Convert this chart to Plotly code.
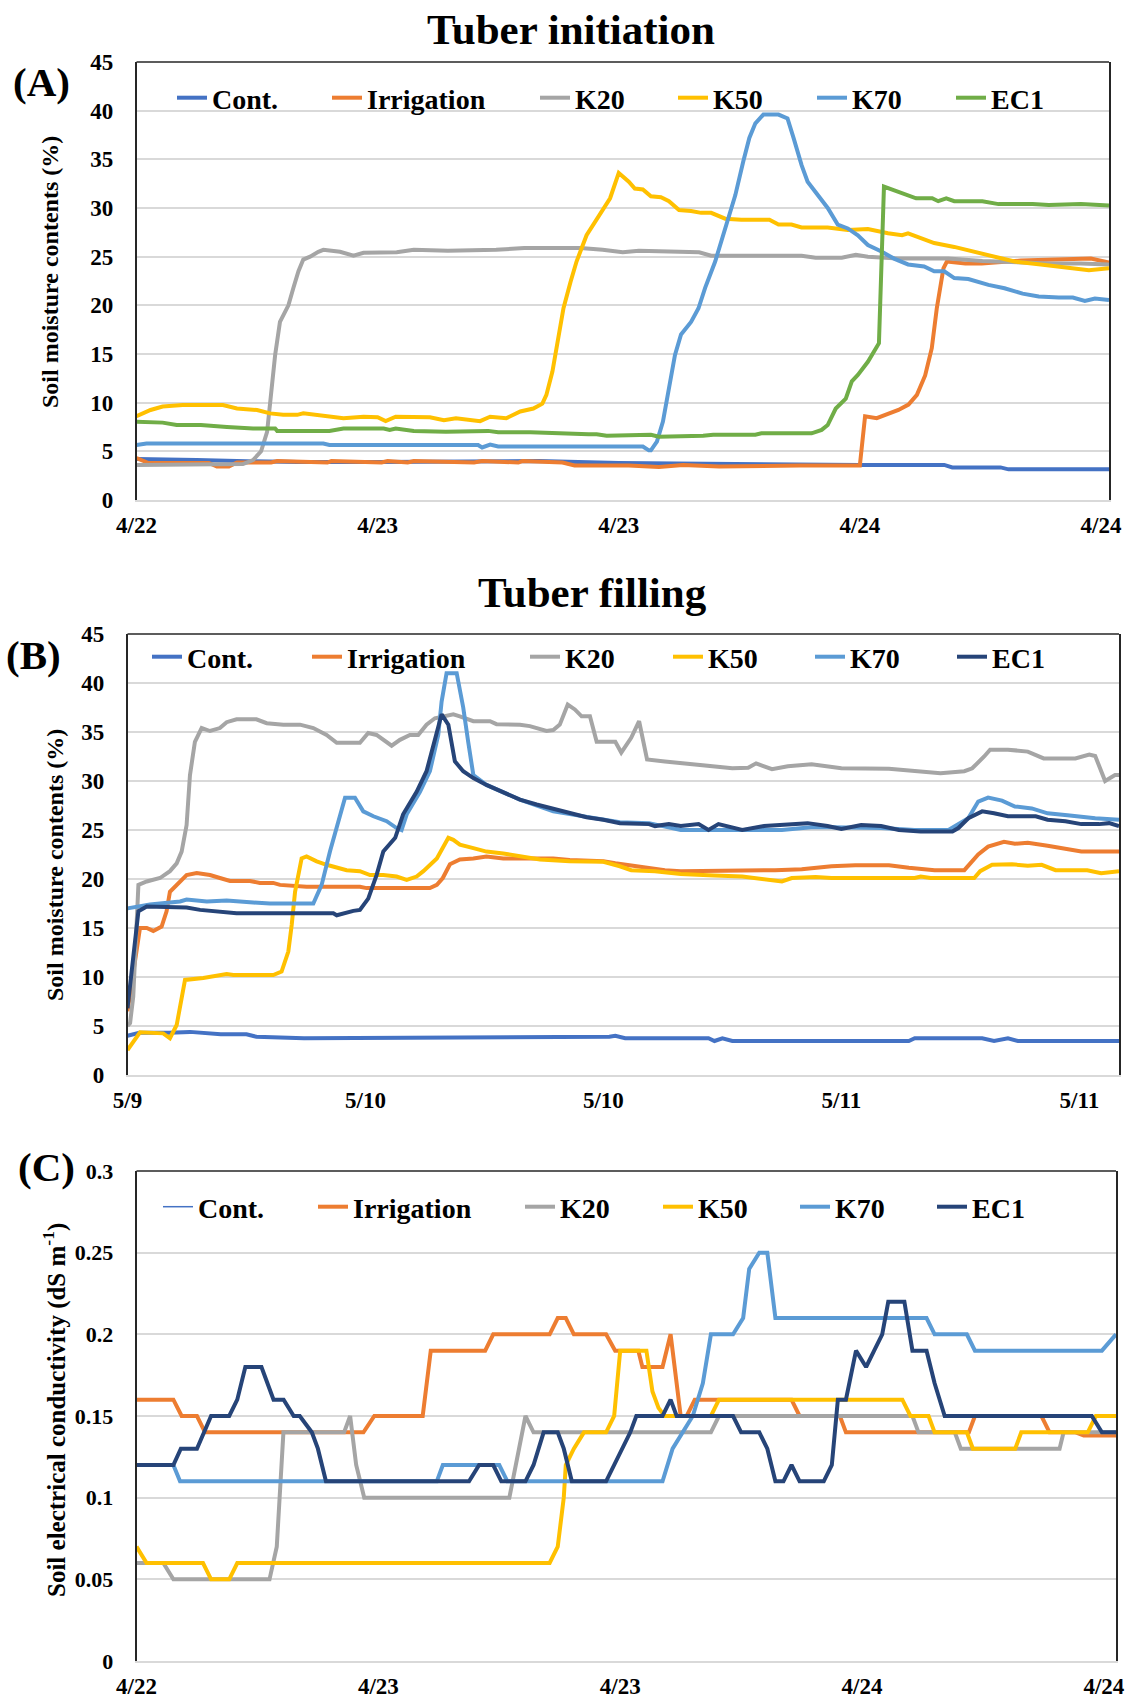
import plotly.graph_objects as go

# ---------------- data ----------------
SERIES = ["Cont.", "Irrigation", "K20", "K50", "K70", "EC1"]
COLORS_A = ["#4472C4", "#ED7D31", "#A5A5A5", "#FFC000", "#5B9BD5", "#70AD47"]
COLORS_BC = ["#4472C4", "#ED7D31", "#A5A5A5", "#FFC000", "#5B9BD5", "#264478"]

X_TICKVALS = [0, 12, 24, 36, 48]          # hours after first tick
X_TICKTEXT_A = ["4/22", "4/23", "4/23", "4/24", "4/24"]
X_TICKTEXT_B = ["5/9", "5/10", "5/10", "5/11", "5/11"]
X_TICKTEXT_C = ["4/22", "4/23", "4/23", "4/24", "4/24"]
Y_TICKS_SM = [0, 5, 10, 15, 20, 25, 30, 35, 40, 45]
Y_TICKS_EC = [0, 0.05, 0.1, 0.15, 0.2, 0.25, 0.3]
Y_TICKTEXT_EC = ["0", "0.05", "0.1", "0.15", "0.2", "0.25", "0.3"]

# ---- (A) Tuber initiation: soil moisture (%) ----
A_CONT_T = [0, 1, 3, 5, 8, 12, 16, 20, 24, 28, 32, 36, 40.2, 40.6, 43.0, 43.4, 48.4]
A_CONT_V = [4.2, 4.2, 4.1, 4.0, 3.9, 3.9, 4.0, 4.0, 3.8, 3.7, 3.6, 3.6, 3.6, 3.35, 3.35, 3.15, 3.15]

A_IRR_T = [0, 0.6, 3.6, 4.0, 4.6, 5.0, 6.7, 7.0, 9.5, 9.7, 12.2, 12.5, 13.5, 13.8, 16.8, 17.2,
           19.0, 19.2, 21.2, 21.8, 24.5, 26.0, 27.2, 29.0, 33.0, 36.0, 36.26, 36.84, 37.92, 38.42,
           38.84, 39.25, 39.58, 39.83, 40.16, 40.33, 41.25, 42.07, 44.0, 45.4, 47.5, 48.4]
A_IRR_V = [4.3, 3.8, 3.8, 3.45, 3.45, 3.85, 3.85, 4.0, 3.85, 4.0, 3.85, 4.0, 3.85, 4.0, 3.85, 4.0,
           3.85, 4.0, 3.85, 3.55, 3.55, 3.4, 3.6, 3.45, 3.55, 3.55, 8.6, 8.4, 9.25, 9.8,
           10.8, 12.8, 15.6, 19.7, 23.8, 24.5, 24.3, 24.3, 24.6, 24.7, 24.8, 24.4]

A_K20_T = [0, 2, 4, 5.3, 5.8, 6.2, 6.5, 6.73, 6.9, 7.14, 7.31, 7.56, 7.81, 8.06, 8.3, 8.64, 9.05,
           9.3, 10.13, 10.8, 11.3, 12.95, 13.8, 15.5, 17.9, 19.3, 20.4, 22.1, 23.2, 24.2, 25.0,
           28.0, 28.6, 33.1, 33.8, 35.1, 35.8, 36.4, 37.9, 40.4, 42.1, 43.7, 45.4, 47.0, 48.4]
A_K20_V = [3.6, 3.6, 3.65, 3.7, 4.1, 5.0, 7.0, 11.5, 14.9, 18.3, 19.0, 20.0, 21.8, 23.5, 24.7, 25.0, 25.5,
           25.7, 25.5, 25.1, 25.4, 25.45, 25.7, 25.6, 25.7, 25.9, 25.9, 25.9, 25.7, 25.45, 25.6,
           25.45, 25.1, 25.1, 24.9, 24.9, 25.2, 25.0, 24.8, 24.8, 24.55, 24.4, 24.3, 24.3, 24.2]

A_K50_T = [0, 0.7, 1.3, 2.3, 4.3, 5.0, 6.0, 6.65, 7.3, 8.0, 8.3, 9.3, 10.3, 11.3, 12.0, 12.4, 12.9,
           14.6, 15.3, 15.9, 17.1, 17.6, 18.4, 19.1, 19.75, 20.2, 20.4, 20.7, 20.9, 21.25, 21.6,
           21.9, 22.4, 23.07, 23.57, 24.0, 24.5, 24.8, 25.2, 25.6, 26.1, 26.5, 27.0, 27.6, 28.1,
           28.6, 29.3, 30.1, 31.5, 31.95, 32.6, 33.1, 34.4, 35.4, 36.4, 37.4, 38.1, 38.4, 39.1,
           39.7, 40.7, 41.7, 42.9, 43.7, 45.0, 46.4, 47.4, 48.4]
A_K50_V = [8.6, 9.25, 9.6, 9.75, 9.75, 9.4, 9.25, 8.9, 8.75, 8.75, 8.9, 8.6, 8.4, 8.55, 8.5, 8.1, 8.55,
           8.5, 8.2, 8.4, 8.1, 8.55, 8.4, 9.1, 9.4, 9.9, 10.8, 13.2, 15.6, 19.7, 22.4,
           24.5, 27.2, 29.3, 31.0, 33.6, 32.7, 32.0, 31.9, 31.2, 31.1, 30.7, 29.8, 29.7, 29.5,
           29.5, 28.9, 28.8, 28.8, 28.3, 28.3, 28.0, 28.0, 27.75, 27.85, 27.4, 27.2, 27.4, 26.9,
           26.4, 26.0, 25.5, 24.8, 24.5, 24.2, 23.8, 23.6, 23.8]

A_K70_T = [0, 0.5, 9.3, 9.6, 17.0, 17.2, 17.6, 18.0, 25.2, 25.5, 25.6, 25.9, 26.2, 26.5, 26.8, 27.1,
           27.6, 27.97, 28.3, 28.8, 29.3, 29.8, 30.2, 30.5, 30.8, 31.2, 31.95, 32.4, 32.7, 33.1,
           33.4, 33.9, 34.4, 34.9, 35.4, 35.9, 36.4, 37.1, 37.7, 38.4, 39.2, 39.7, 40.2, 40.7,
           41.4, 42.4, 43.2, 44.1, 44.9, 45.9, 46.6, 47.2, 47.7, 48.4]
A_K70_V = [5.65, 5.8, 5.8, 5.65, 5.65, 5.4, 5.7, 5.5, 5.5, 5.1, 5.1, 6.0, 8.05, 11.5, 14.9, 17.0,
           18.3, 19.7, 21.8, 24.5, 27.9, 31.3, 34.8, 37.2, 38.7, 39.6, 39.6, 39.2, 37.2, 34.4,
           32.7, 31.3, 30.0, 28.3, 27.9, 27.2, 26.2, 25.5, 24.8, 24.2, 24.0, 23.5, 23.5, 22.8,
           22.7, 22.1, 21.75, 21.2, 20.9, 20.8, 20.8, 20.45, 20.7, 20.55]

A_EC1_T = [0, 1.3, 2.0, 3.2, 4.5, 5.8, 6.9, 7.0, 9.6, 10.3, 12.3, 12.6, 12.9, 13.8, 15.4, 17.2, 17.5,
           18.0, 19.6, 22.5, 22.9, 23.4, 24.5, 25.6, 26.0, 27.5, 28.2, 28.7, 30.8, 31.1, 33.6,
           34.1, 34.4, 34.8, 35.3, 35.6, 35.9, 36.4, 36.8, 36.95, 37.2, 37.6, 38.3, 38.8, 39.6,
           39.9, 40.3, 40.7, 42.1, 42.9, 44.6, 45.4, 47.0, 48.4]
A_EC1_V = [8.05, 7.95, 7.7, 7.7, 7.5, 7.35, 7.35, 7.1, 7.1, 7.35, 7.35, 7.2, 7.35, 7.1, 7.0, 7.0, 7.1,
           6.95, 6.95, 6.75, 6.75, 6.6, 6.7, 6.7, 6.5, 6.5, 6.6, 6.7, 6.7, 6.85, 6.85,
           7.2, 7.7, 9.4, 10.4, 12.2, 12.85, 14.2, 15.6, 16.1, 32.2, 31.9, 31.3, 31.0, 31.0,
           30.7, 31.0, 30.7, 30.7, 30.4, 30.4, 30.3, 30.4, 30.25]

# ---- (B) Tuber filling: soil moisture (%) ----
B_CONT_T = [0, 0.6, 2.1, 3.15, 4.7, 6.0, 6.5, 8.9, 24.3, 24.6, 25.1, 29.3, 29.6, 30.0, 30.5, 39.4,
            39.7, 43.1, 43.7, 44.4, 44.9, 50]
B_CONT_V = [4.0, 4.3, 4.3, 4.4, 4.15, 4.15, 3.9, 3.75, 3.9, 4.0, 3.75, 3.75, 3.47, 3.75, 3.47, 3.47,
            3.75, 3.75, 3.47, 3.75, 3.47, 3.47]

B_IRR_T = [0, 0.63, 0.97, 1.3, 1.72, 1.97, 2.14, 2.48, 2.98, 3.49, 4.16, 4.66, 5.17, 6.18, 6.68, 7.35,
           7.69, 9.03, 11.72, 12.06, 15.25, 15.6, 15.9, 16.26, 16.76, 17.44, 18.1, 18.95, 21.47,
           22.3, 24.0, 24.6, 25.6, 27.1, 27.9, 31.3, 32.65, 34.0, 35.5, 36.7, 38.4, 39.4, 40.7,
           42.2, 42.9, 43.4, 44.2, 44.75, 45.4, 46.4, 47.4, 48.1, 50]
B_IRR_V = [6.5, 15.0, 15.0, 14.7, 15.15, 16.7, 18.7, 19.4, 20.4, 20.6, 20.4, 20.1, 19.8, 19.8, 19.6, 19.6,
           19.4, 19.2, 19.2, 19.07, 19.07, 19.4, 20.1, 21.5, 22.0, 22.1, 22.3, 22.1, 22.1,
           21.95, 21.8, 21.6, 21.3, 20.9, 20.8, 20.8, 20.9, 21.0, 21.3, 21.4, 21.4, 21.15, 20.9,
           20.9, 22.5, 23.3, 23.8, 23.6, 23.7, 23.4, 23.1, 22.8, 22.8]

B_K20_T = [0, 0.13, 0.29, 0.55, 0.97, 1.64, 2.14, 2.48, 2.73, 2.98, 3.15, 3.4, 3.74, 4.16, 4.66, 5.0,
           5.5, 6.5, 7.02, 7.86, 8.7, 9.37, 10.04, 10.55, 11.72, 12.14, 12.56, 13.32, 13.74,
           14.24, 14.66, 15.08, 15.5, 16.43, 16.76, 17.44, 18.28, 18.61, 19.79, 20.29, 21.13,
           21.47, 21.8, 22.2, 22.56, 22.9, 23.32, 23.66, 24.41, 24.6, 24.9, 25.4, 25.8, 26.2,
           27.1, 28.8, 30.5, 31.3, 31.7, 32.5, 33.3, 34.5, 36.0, 38.4, 39.7, 41.0, 42.2, 42.6,
           43.2, 43.5, 44.4, 45.4, 46.2, 47.8, 48.5, 48.8, 49.3, 49.8, 50]
B_K20_V = [5.0, 5.3, 8.0, 19.4, 19.75, 20.1, 20.8, 21.6, 22.8, 25.5, 30.6, 34.0, 35.4, 35.1, 35.4, 36.0,
           36.3, 36.3, 35.9, 35.75, 35.75, 35.4, 34.7, 33.9, 33.9, 34.9, 34.7, 33.6, 34.2,
           34.7, 34.7, 35.75, 36.4, 36.8, 36.6, 36.1, 36.1, 35.8, 35.75, 35.6, 35.1,
           35.2, 35.75, 37.8, 37.3, 36.6, 36.6, 34.0, 34.0, 34.0, 32.9, 34.4, 36.1, 32.2,
           32.0, 31.7, 31.3, 31.35, 31.8, 31.2, 31.5, 31.7, 31.3, 31.25, 31.0, 30.8, 31.0, 31.3,
           32.5, 33.2, 33.2, 33.0, 32.3, 32.3, 32.7, 32.55, 30.0, 30.6, 30.6]

B_K50_T = [0, 0.63, 1.8, 2.14, 2.48, 2.9, 3.82, 4.33, 5.0, 5.34, 7.35, 7.77, 8.11, 8.28, 8.45, 8.78,
           9.03, 9.54, 10.04, 11.05, 11.72, 12.23, 12.9, 13.57, 14.08, 14.58, 14.92, 15.6, 16.18,
           16.43, 16.76, 17.44, 18.1, 18.95, 19.79, 20.8, 22.3, 24.0, 24.83, 25.4, 26.6, 27.9,
           29.6, 31.0, 33.0, 33.5, 34.7, 35.5, 39.7, 40.0, 40.5, 42.7, 43.0, 43.6, 44.6, 45.4,
           46.1, 46.8, 48.4, 49.1, 50]
B_K50_V = [2.55, 4.35, 4.25, 3.75, 5.1, 9.7, 9.9, 10.05, 10.3, 10.2, 10.2, 10.55, 12.6, 15.3, 18.7, 22.1,
           22.3, 21.8, 21.45, 20.9, 20.8, 20.4, 20.4, 20.25, 19.9, 20.25, 20.8, 22.1, 24.2,
           24.0, 23.5, 23.15, 22.8, 22.6, 22.3, 22.0, 21.8, 21.75, 21.3, 20.9, 20.8, 20.5,
           20.35, 20.25, 19.75, 20.1, 20.2, 20.1, 20.1, 20.25, 20.1, 20.1, 20.8, 21.45, 21.5, 21.35,
           21.45, 20.9, 20.9, 20.6, 20.8]

B_K70_T = [0, 1.13, 2.65, 2.98, 4.0, 5.0, 6.34, 7.18, 9.37, 9.79, 10.21, 10.71, 10.97, 11.47, 11.89,
           12.4, 13.07, 13.57, 13.82, 14.08, 14.75, 15.25, 15.67, 15.84, 16.09, 16.6, 16.93, 17.18,
           17.44, 18.1, 19.79, 21.47, 23.15, 24.83, 26.3, 27.9, 33.0, 34.6, 38.0, 39.7, 41.4,
           42.4, 42.9, 43.4, 44.1, 44.75, 45.6, 46.4, 47.4, 48.1, 48.8, 50]
B_K70_V = [17.0, 17.4, 17.7, 17.9, 17.7, 17.8, 17.6, 17.5, 17.5, 19.4, 22.8, 26.2, 28.3, 28.3, 26.9,
           26.4, 25.9, 25.2, 25.0, 26.6, 28.9, 31.0, 34.7, 38.1, 41.0, 41.0, 37.5, 34.0,
           30.6, 29.6, 28.1, 26.9, 26.3, 25.8, 25.7, 25.0, 25.0, 25.3, 25.2, 25.0, 25.0,
           26.2, 27.9, 28.3, 28.0, 27.4, 27.2, 26.7, 26.5, 26.3, 26.2, 26.05]

B_EC1_T = [0, 0.55, 0.97, 2.98, 3.66, 4.66, 5.5, 10.38, 10.55, 11.39, 11.72, 12.14, 12.56, 12.9, 13.5,
           13.9, 14.58, 15.08, 15.59, 15.84, 16.18, 16.51, 16.93, 17.44, 18.1, 18.95, 19.79,
           20.63, 21.47, 22.3, 23.15, 24.0, 24.83, 26.3, 26.6, 27.3, 27.9, 28.8, 29.3, 29.8,
           30.5, 31.0, 32.1, 33.0, 34.3, 35.3, 36.0, 37.0, 38.0, 38.9, 40.0, 41.6, 41.9, 42.4,
           43.1, 43.7, 44.4, 45.8, 46.4, 47.3, 48.1, 49.0, 49.5, 50]
B_EC1_V = [6.8, 16.7, 17.2, 17.1, 16.85, 16.7, 16.5, 16.5, 16.3, 16.75, 16.85, 18.0, 20.4, 22.8, 24.2,
           26.6, 28.9, 31.0, 34.7, 36.8, 35.75, 32.0, 31.0, 30.3, 29.6, 28.9, 28.1,
           27.6, 27.2, 26.7, 26.3, 26.05, 25.7, 25.6, 25.4, 25.6, 25.4, 25.6, 25.0, 25.6,
           25.3, 25.0, 25.4, 25.5, 25.7, 25.4, 25.1, 25.5, 25.4, 25.0, 24.85, 24.85, 25.2, 26.2,
           26.9, 26.7, 26.4, 26.4, 26.05, 25.9, 25.6, 25.6, 25.7, 25.4]

# ---- (C) Soil electrical conductivity (dS m-1) ----
# Cont. has no plotted values in (C); it appears only in the legend
C_CONT_T = [None]
C_CONT_V = [None]

C_IRR_T = [0, 1.83, 2.24, 3.0, 3.4, 11.26, 11.8, 14.2, 14.6, 17.3, 17.7, 20.5, 20.9, 21.3, 21.7, 23.3,
           23.75, 24.9, 25.1, 26.1, 26.5, 27.0, 27.3, 27.7, 32.5, 32.9, 34.9, 35.2, 41.3, 41.6,
           44.9, 45.3, 46.6, 47.0, 48.6]
C_IRR_V = [0.16, 0.16, 0.15, 0.15, 0.14, 0.14, 0.15, 0.15, 0.19, 0.19, 0.20, 0.20, 0.21, 0.21, 0.20, 0.20,
           0.19, 0.19, 0.18, 0.18, 0.20, 0.15, 0.15, 0.16, 0.16, 0.15, 0.15, 0.14, 0.14, 0.15,
           0.15, 0.14, 0.14, 0.138, 0.138]

C_K20_T = [0, 1.33, 1.83, 6.6, 6.96, 7.29, 10.3, 10.6, 10.9, 11.3, 18.5, 18.95, 19.3, 19.7, 28.5, 28.9,
           38.5, 38.8, 40.6, 40.9, 45.8, 46.0, 48.6]
C_K20_V = [0.06, 0.06, 0.05, 0.05, 0.07, 0.14, 0.14, 0.15, 0.12, 0.10, 0.10, 0.13, 0.15, 0.14, 0.14, 0.15,
           0.15, 0.14, 0.14, 0.13, 0.13, 0.14, 0.14]

C_K50_T = [0, 0.5, 3.3, 3.7, 4.6, 5.0, 20.5, 20.9, 21.2, 21.3, 21.7, 22.2, 23.3, 23.7, 24.0, 25.3, 25.6,
           25.9, 26.2, 28.5, 28.9, 38.0, 38.4, 39.3, 39.6, 41.2, 41.5, 43.6, 43.9, 47.2, 47.6, 48.6]
C_K50_V = [0.07, 0.06, 0.06, 0.05, 0.05, 0.06, 0.06, 0.07, 0.10, 0.12, 0.13, 0.14, 0.14, 0.15, 0.19, 0.19,
           0.165, 0.155, 0.15, 0.15, 0.16, 0.16, 0.15, 0.15, 0.14, 0.14, 0.13, 0.13, 0.14, 0.14, 0.15, 0.15]

C_K70_T = [0, 1.83, 2.16, 14.9, 15.2, 18.0, 18.4, 26.1, 26.6, 27.6, 28.1, 28.5, 29.6, 30.1, 30.4, 30.9,
           31.3, 31.7, 39.2, 39.6, 41.2, 41.6, 47.9, 48.6]
C_K70_V = [0.12, 0.12, 0.11, 0.11, 0.12, 0.12, 0.11, 0.11, 0.13, 0.15, 0.17, 0.20, 0.20, 0.21, 0.24, 0.25,
           0.25, 0.21, 0.21, 0.20, 0.20, 0.19, 0.19, 0.20]

C_EC1_T = [0, 1.83, 2.2, 3.0, 3.7, 4.6, 5.0, 5.4, 6.2, 6.8, 7.3, 7.8, 8.1, 8.7, 9.0, 9.4, 16.5, 17.0,
           17.7, 18.1, 19.3, 19.7, 20.2, 20.9, 21.2, 21.6, 23.3, 23.7, 24.5, 24.8, 26.1, 26.5, 26.8,
           29.6, 30.0, 30.9, 31.3, 31.7, 32.1, 32.5, 32.9, 34.1, 34.5, 34.8, 35.2, 35.7, 36.2, 36.6,
           37.0, 37.3, 38.1, 38.5, 39.2, 39.6, 40.1, 47.4, 47.9, 48.6]
C_EC1_V = [0.12, 0.12, 0.13, 0.13, 0.15, 0.15, 0.16, 0.18, 0.18, 0.16, 0.16, 0.15, 0.15, 0.14, 0.13, 0.11,
           0.11, 0.12, 0.12, 0.11, 0.11, 0.12, 0.14, 0.14, 0.13, 0.11, 0.11, 0.12, 0.14, 0.15, 0.15,
           0.16, 0.15, 0.15, 0.14, 0.14, 0.13, 0.11, 0.11, 0.12, 0.11, 0.11, 0.12, 0.16, 0.16, 0.19,
           0.18, 0.19, 0.20, 0.22, 0.22, 0.19, 0.19, 0.17, 0.15, 0.15, 0.14, 0.14]

PANEL_A = [(A_CONT_T, A_CONT_V), (A_IRR_T, A_IRR_V), (A_K20_T, A_K20_V),
           (A_K50_T, A_K50_V), (A_K70_T, A_K70_V), (A_EC1_T, A_EC1_V)]
PANEL_B = [(B_CONT_T, B_CONT_V), (B_IRR_T, B_IRR_V), (B_K20_T, B_K20_V),
           (B_K50_T, B_K50_V), (B_K70_T, B_K70_V), (B_EC1_T, B_EC1_V)]
PANEL_C = [(C_CONT_T, C_CONT_V), (C_IRR_T, C_IRR_V), (C_K20_T, C_K20_V),
           (C_K50_T, C_K50_V), (C_K70_T, C_K70_V), (C_EC1_T, C_EC1_V)]

# ---------------- layout helpers ----------------
W, H = 1126, 1699
SERIF = "Liberation Serif, Times New Roman, serif"


def px(x):
    return x / W


def py(y):
    return 1 - y / H


panels = [
    dict(data=PANEL_A, colors=COLORS_A, ax="", xdom=(136.5, 1109), ydom=(62, 500),
         xrange=[0, 48.4], yrange=[0, 45], ytv=Y_TICKS_SM, ytt=[str(v) for v in Y_TICKS_SM],
         xtt=X_TICKTEXT_A, leg_x=[212, 367, 575, 713, 852, 991], leg_y=98, ytick_size=23),
    dict(data=PANEL_B, colors=COLORS_BC, ax="2", xdom=(127.5, 1119), ydom=(634, 1075),
         xrange=[0, 50], yrange=[0, 45], ytv=Y_TICKS_SM, ytt=[str(v) for v in Y_TICKS_SM],
         xtt=X_TICKTEXT_B, leg_x=[187, 347, 565, 708, 850, 992], leg_y=657, ytick_size=23),
    dict(data=PANEL_C, colors=COLORS_BC, ax="3", xdom=(136.5, 1116), ydom=(1171, 1661),
         xrange=[0, 48.6], yrange=[0, 0.3], ytv=Y_TICKS_EC, ytt=Y_TICKTEXT_EC,
         xtt=X_TICKTEXT_C, leg_x=[198, 353, 560, 698, 835, 972], leg_y=1207, ytick_size=22),
]

fig = go.Figure()
layout = dict(width=W, height=H, margin=dict(l=0, r=0, t=0, b=0, autoexpand=False),
              paper_bgcolor="white", plot_bgcolor="white", showlegend=True,
              font=dict(family=SERIF, color="black"))
shapes = []
leg_idx = 0
for p in panels:
    ax = p["ax"]
    xname, yname = "x" + ax, "y" + ax
    for i, (t, v) in enumerate(p["data"]):
        leg_idx += 1
        lname = "legend" if leg_idx == 1 else f"legend{leg_idx}"
        lw = 1.5 if (ax == "3" and i == 0) else 4
        fig.add_trace(go.Scatter(
            x=t, y=v, mode="lines", name=SERIES[i], showlegend=True,
            line=dict(color=p["colors"][i], width=lw),
            xaxis=xname, yaxis=yname, legend=lname))
        layout[lname] = dict(
            x=px(p["leg_x"][i] - 40), y=py(p["leg_y"]), xanchor="left", yanchor="middle",
            bgcolor="rgba(0,0,0,0)", borderwidth=0,
            font=dict(family=SERIF, size=28, color="black", weight="bold"))
    layout["xaxis" + ax] = dict(
        domain=[px(p["xdom"][0]), px(p["xdom"][1])], range=p["xrange"],
        anchor=yname, showgrid=False, zeroline=False, automargin=False,
        showline=True, linecolor="#D9D9D9", linewidth=1.5,
        tickmode="array", tickvals=X_TICKVALS, ticktext=p["xtt"], ticks="",
        ticklabelstandoff=4,
        tickfont=dict(family=SERIF, size=23, color="black", weight="bold"))
    layout["yaxis" + ax] = dict(
        domain=[py(p["ydom"][1]), py(p["ydom"][0])], range=p["yrange"],
        anchor=xname, showgrid=True, gridcolor="#D9D9D9", gridwidth=1.5, zeroline=False,
        automargin=False,
        showline=True, mirror=True, linecolor="#262626", linewidth=1.5,
        tickmode="array", tickvals=p["ytv"], ticktext=p["ytt"], ticks="",
        ticklabelstandoff=17,
        tickfont=dict(family=SERIF, size=p["ytick_size"], color="black", weight="bold"))
    shapes.append(dict(type="line", xref=f"{xname} domain", yref=f"{yname} domain",
                       x0=0, x1=1, y0=1, y1=1, line=dict(color="#262626", width=1.5)))

annotations = [
    dict(text="Tuber initiation", x=px(571), y=py(30), size=43),
    dict(text="Tuber filling", x=px(592), y=py(593), size=43),
    dict(text="(A)", x=px(41), y=py(82), size=41),
    dict(text="(B)", x=px(33), y=py(655), size=41),
    dict(text="(C)", x=px(46), y=py(1167), size=41),
]
ann = []
for a in annotations:
    ann.append(dict(text=a["text"], x=a["x"], y=a["y"], xref="paper", yref="paper",
                    xanchor="center", yanchor="middle", showarrow=False,
                    font=dict(family=SERIF, size=a["size"], color="black", weight="bold")))
for txt, x, y, s in [("Soil moisture contents (%)", 50, 272, 24),
                     ("Soil moisture contents (%)", 55, 865, 24),
                     ("Soil electrical conductivity (dS m<sup>-1</sup>)", 54, 1410, 25)]:
    ann.append(dict(text=txt, x=px(x), y=py(y), xref="paper", yref="paper",
                    xanchor="center", yanchor="middle", showarrow=False, textangle=-90,
                    font=dict(family=SERIF, size=s, color="black", weight="bold")))

layout["shapes"] = shapes
layout["annotations"] = ann
fig.update_layout(**layout)
fig.write_html("out.html", config={"displayModeBar": False},
               post_script="document.body.style.margin='0';document.body.style.overflow='hidden';")
